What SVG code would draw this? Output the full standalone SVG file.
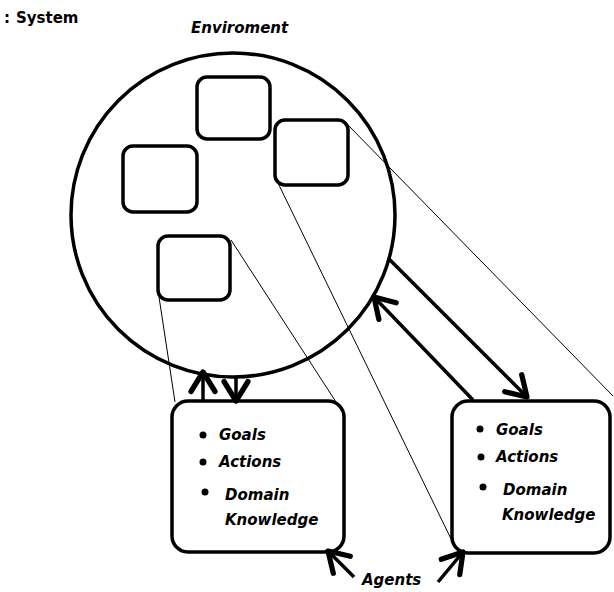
<svg xmlns="http://www.w3.org/2000/svg" width="614" height="592" viewBox="0 0 614 592">
<style>
.thick{fill:none;stroke:#000;stroke-width:3.5}
.box{fill:none;stroke:#000;stroke-width:3.5}
.thin{fill:none;stroke:#000;stroke-width:1}
.arr{fill:none;stroke:#000;stroke-width:3.5}
.lbl{font-family:"DejaVu Sans",Verdana,sans-serif;font-weight:bold;font-style:italic;font-size:15px;fill:#000}
.ttl{font-family:"DejaVu Sans",Verdana,sans-serif;font-weight:bold;font-size:15px;fill:#000}
</style>
<defs>
<marker id="ah" markerUnits="userSpaceOnUse" markerWidth="30" markerHeight="30" viewBox="-16 -10 20 20" refX="0" refY="0" orient="auto">
<path d="M-13,-8 L0,0 L-13,8" fill="none" stroke="#000" stroke-width="3.5" stroke-linecap="round" stroke-linejoin="round"/>
</marker>
</defs>
<rect width="614" height="592" fill="#fff"/>
<text class="ttl" x="4" y="23">:</text>
<text class="ttl" x="16" y="23">System</text>
<g id="environment">
<text class="lbl" x="191" y="33">Enviroment</text>
<circle cx="233" cy="215" r="162" class="thick" stroke-width="3"/>
<rect id="env-box-top" x="197" y="77" width="73" height="62" rx="10" class="box" stroke-width="3"/>
<rect id="env-box-right" x="275" y="120" width="73" height="65" rx="10" class="box" stroke-width="3"/>
<rect id="env-box-left" x="123" y="146" width="74" height="66" rx="10" class="box" stroke-width="3"/>
<rect id="env-box-bottom" x="158" y="236" width="72" height="64" rx="10" class="box" stroke-width="3"/>
</g>
<g id="connectors">
<line class="thin" x1="159" y1="297" x2="175" y2="402"/>
<line class="thin" x1="231" y1="240" x2="336" y2="402"/>
<line class="thin" x1="278" y1="183" x2="453" y2="543"/>
<line class="thin" x1="347" y1="124" x2="613" y2="396"/>
<line class="arr" x1="388" y1="258" x2="527" y2="397" marker-end="url(#ah)"/>
<line class="arr" x1="473" y1="400" x2="374" y2="297" marker-end="url(#ah)"/>
<line class="arr" x1="203" y1="401" x2="203" y2="372" marker-end="url(#ah)"/>
<line class="arr" x1="236" y1="376" x2="236" y2="401" marker-end="url(#ah)"/>
<line class="arr" x1="354" y1="577" x2="328" y2="551" marker-end="url(#ah)"/>
<line class="arr" x1="438" y1="582" x2="463" y2="552" marker-end="url(#ah)"/>
</g>
<g id="agent1">
<rect x="172" y="401" width="172" height="151" rx="16" class="box"/>
<circle cx="203" cy="435" r="3.5"/>
<circle cx="203" cy="462" r="3.5"/>
<circle cx="205" cy="492" r="3.5"/>
<text class="lbl" x="219" y="440">Goals</text>
<text class="lbl" x="219" y="467">Actions</text>
<text class="lbl" x="225" y="500">Domain</text>
<text class="lbl" x="225" y="525">Knowledge</text>
</g>
<g id="agent2">
<rect x="452" y="401" width="158" height="152" rx="16" class="box"/>
<circle cx="480" cy="429" r="3.5"/>
<circle cx="481" cy="457" r="3.5"/>
<circle cx="483" cy="487" r="3.5"/>
<text class="lbl" x="496" y="435">Goals</text>
<text class="lbl" x="496" y="462">Actions</text>
<text class="lbl" x="503" y="495">Domain</text>
<text class="lbl" x="502" y="520">Knowledge</text>
</g>
<g id="agents-label">
<text class="lbl" x="362" y="585">Agents</text>
</g>
</svg>
